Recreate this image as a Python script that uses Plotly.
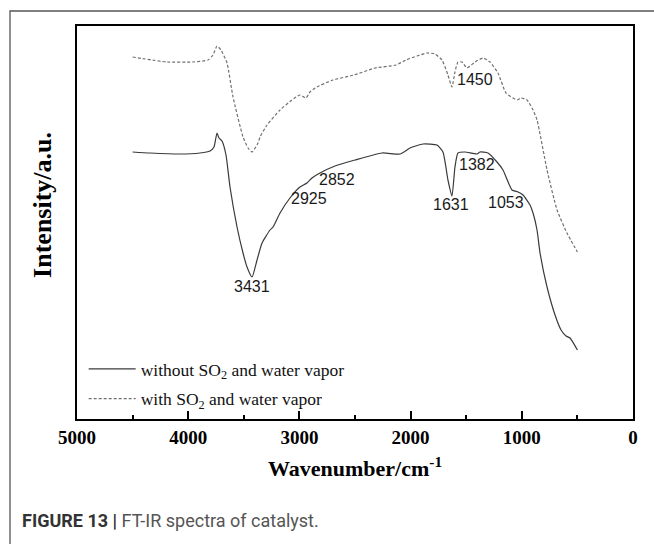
import plotly.graph_objects as go

# ---------------- data ----------------
wn_without = [4500, 4344, 4074, 3894, 3804, 3768, 3741, 3723, 3696, 3660, 3624, 3561,
              3507, 3471, 3426, 3381, 3336, 3264, 3237, 3174, 3085, 2995, 2932, 2887,
              2815, 2680, 2500, 2257, 2095, 2005, 1888, 1763, 1709, 1664, 1628, 1601,
              1574, 1511, 1403, 1376, 1304, 1223, 1169, 1088, 1034, 989, 926, 899, 863,
              836, 773, 701, 647, 602, 566, 500]
int_without = [267, 266, 265, 266, 268, 272, 286, 281, 278, 264, 232, 192,
               166, 152, 142, 159, 176, 189, 192, 206, 221, 232, 236, 241,
               246, 253, 259, 266, 265, 271, 275, 274, 267, 239, 223, 252,
               266, 267, 265, 267, 266, 257, 249, 229, 227, 224, 214, 206, 189,
               166, 132, 104, 89, 83, 81, 69]

wn_with = [4500, 4191, 3966, 3822, 3777, 3741, 3705, 3651, 3597, 3507, 3462, 3426,
           3372, 3354, 3291, 3174, 3067, 2995, 2941, 2905, 2842, 2698, 2509, 2320,
           2131, 2041, 1942, 1853, 1781, 1718, 1664, 1628, 1601, 1574, 1538, 1493,
           1421, 1349, 1286, 1214, 1142, 1043, 1007, 953, 899, 863, 773, 683, 594, 500]
int_with = [362, 357, 357, 359, 364, 373, 369, 356, 322, 282, 271, 267,
            276, 282, 294, 309, 319, 324, 321, 327, 332, 339, 344, 351,
            354, 359, 363, 366, 365, 359, 344, 332, 347, 357, 357, 351,
            357, 361, 357, 346, 326, 319, 321, 319, 309, 299, 249, 209, 186, 167]

peak_labels = ["3431", "2925", "2852", "1631", "1382", "1053", "1450"]
peak_label_x = [3426, 2914, 2662, 1637, 1403, 1142, 1421]
peak_label_y = [133, 221, 240, 215, 255, 217, 340]

x_ticks = [5000, 4000, 3000, 2000, 1000, 0]
series_names = ["without SO<sub>2</sub> and water vapor",
                "with SO<sub>2</sub> and water vapor"]

SERIF = "Liberation Serif, Times New Roman, serif"
SANS = "Liberation Sans, Arial, sans-serif"

fig = go.Figure()
fig.add_trace(go.Scatter(x=wn_without, y=int_without, mode="lines",
                         name=series_names[0], legendgroup="a",
                         line=dict(color="#3a3a3a", width=1.2, shape="spline", smoothing=0.5)))
fig.add_trace(go.Scatter(x=wn_with, y=int_with, mode="lines",
                         name=series_names[1], legendgroup="b",
                         line=dict(color="#707070", width=1.2, dash="3px,2px",
                                   shape="spline", smoothing=0.5)))

for t, x, y in zip(peak_labels, peak_label_x, peak_label_y):
    fig.add_annotation(x=x, y=y, xref="x", yref="y", text=t, showarrow=False,
                       font=dict(family=SANS, size=16, color="#1a1a1a"))

# y-axis title (placed as rotated text)
fig.add_annotation(xref="paper", yref="paper", x=-0.061, y=0.545,
                   xanchor="center", yanchor="middle", showarrow=False, textangle=-90,
                   text="<b>Intensity/a.u.</b>",
                   font=dict(family=SERIF, size=26, color="black"))

# caption
fig.add_annotation(xref="paper", yref="paper", x=-0.1025, y=-0.257,
                   xanchor="left", yanchor="middle", showarrow=False,
                   text="<b>FIGURE 13 |</b> <span style='color:#555'>FT-IR spectra of catalyst.</span>",
                   font=dict(family="Liberation Sans Narrow, Roboto, Arial, sans-serif",
                             size=18, color="#333"))

# outer figure frame (top and left edges visible)
fig.add_shape(type="path", xref="paper", yref="paper",
              path="M 1.1,1.0382 L -0.1205,1.0382 L -0.1205,-0.4",
              line=dict(color="#555", width=1.3))

fig.update_layout(
    width=654, height=544,
    margin=dict(l=77, r=21, t=26, b=125),
    paper_bgcolor="white", plot_bgcolor="white",
    showlegend=True,
    legend=dict(x=0.012, y=0.173, xanchor="left", yanchor="top",
                bgcolor="rgba(0,0,0,0)", traceorder="grouped", tracegroupgap=4,
                itemwidth=47,
                font=dict(family=SERIF, size=17.5, color="#111")),
    xaxis=dict(range=[5000, 0], tickvals=x_ticks, ticks="inside", ticklen=8,
               tickwidth=1.5, tickcolor="black", showline=True, linecolor="black",
               linewidth=2, mirror=True, showgrid=False, zeroline=False,
               tickfont=dict(family=SERIF, size=19, color="black", weight="bold"),
               minor=dict(dtick=500, ticks="inside", ticklen=4, tickwidth=1.5,
                          tickcolor="black", showgrid=False),
               title=dict(text="Wavenumber/cm<sup>-1</sup>", standoff=14,
                          font=dict(family=SERIF, size=22, color="black", weight="bold"))),
    yaxis=dict(range=[0, 393], showticklabels=False, ticks="", showline=True,
               linecolor="black", linewidth=2, mirror=True, showgrid=False,
               zeroline=False, title=dict(text="")),
)

fig.write_html("out.html")
